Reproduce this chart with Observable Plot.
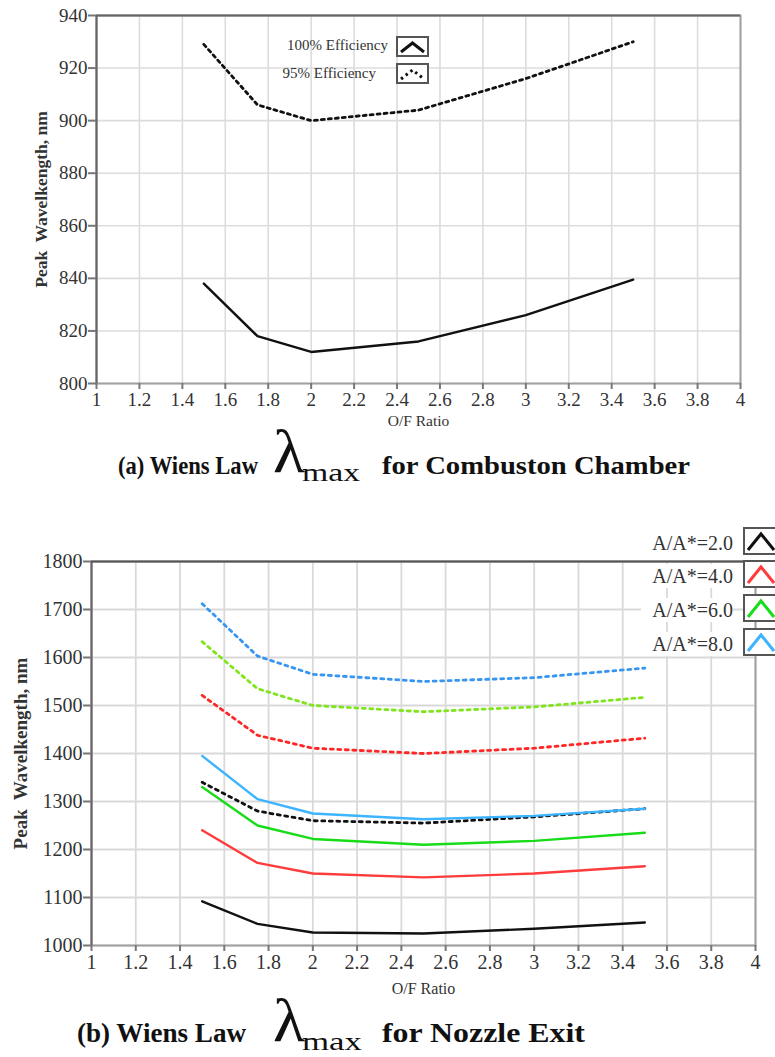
<!DOCTYPE html>
<html>
<head>
<meta charset="utf-8">
<script src="https://cdn.jsdelivr.net/npm/d3@7"></script>
<script src="https://cdn.jsdelivr.net/npm/@observablehq/plot@0.6"></script>
<style>
  body { margin: 0; background: #fff; }
  #root { position: relative; width: 775px; height: 1057px; overflow: hidden;
          font-family: "Liberation Serif", serif; color: #222; }
  #root > svg, .abs { position: absolute; }
  #root svg, #root svg text { font-family: "Liberation Serif", serif !important; }
  .ltxt { white-space: nowrap; color: #333; line-height: 1; text-align: right; }
  .lbox { border: 2px solid #555; background: #fff; box-sizing: border-box; }
</style>
</head>
<body>
<div id="root"></div>
<script>
// ---------------- data ----------------
const ofRatio = [1.5, 1.75, 2.0, 2.5, 3.0, 3.5];
const xTicks = [1, 1.2, 1.4, 1.6, 1.8, 2, 2.2, 2.4, 2.6, 2.8, 3, 3.2, 3.4, 3.6, 3.8, 4];

// (a) combustion chamber
const chamberSeries = ["100% Efficiency", "95% Efficiency"];
const chamber100 = [838, 818, 812, 816, 826, 839.5];
const chamber95 = [929, 906, 900, 904, 916, 930];
const chamberYTicks = [800, 820, 840, 860, 880, 900, 920, 940];

// (b) nozzle exit
const nozzleSeries = ["A/A*=2.0", "A/A*=4.0", "A/A*=6.0", "A/A*=8.0"];
const nozzleColors = ["#111111", "#ff3c3c", "#18dc18", "#3cb4ff"];
const nozzleDashColors = ["#111111", "#ff2626", "#80e41e", "#3896f0"];
const nozzle100 = [
  [1092, 1045, 1027, 1025, 1035, 1048],
  [1240, 1172, 1150, 1142, 1150, 1165],
  [1330, 1250, 1222, 1210, 1218, 1235],
  [1395, 1305, 1275, 1263, 1270, 1285]
];
const nozzle95 = [
  [1340, 1280, 1260, 1255, 1268, 1285],
  [1521, 1438, 1411, 1400, 1411, 1432],
  [1633, 1535, 1500, 1487, 1497, 1517],
  [1712, 1603, 1565, 1550, 1558, 1578]
];
const nozzleYTicks = [1000, 1100, 1200, 1300, 1400, 1500, 1600, 1700, 1800];

const yTitle = "Peak\u00a0 Wavelkength, nm";
const xTitle = "O/F Ratio";
const captionA = ["(a) Wiens Law", "λ", "max", "for Combuston Chamber"];
const captionB = ["(b) Wiens Law", "λ", "max", "for Nozzle Exit"];

// ---------------- helpers ----------------
const root = document.getElementById("root");
const fmtX = d => String(+d.toFixed(1));
const fmtY = d => String(d);
const rowsOf = vals => ofRatio.map((x, i) => ({x, y: vals[i]}));
const FONT = "Liberation Serif";

function place(el, left, top) {
  el.style.left = left + "px"; el.style.top = top + "px";
  root.appendChild(el);
  return el;
}
function div(cls, html, css) {
  const d = document.createElement("div");
  d.className = "abs " + cls;
  d.innerHTML = html;
  Object.assign(d.style, css || {});
  return d;
}
function caretIcon(color, dashed, w, h) {
  return `<svg width="${w}" height="${h}" style="display:block"><polyline points="3,${h - 5} ${w / 2 - 1},5 ${w - 5},${h - 5}" fill="none" stroke="${color}" stroke-width="3" ${dashed ? 'stroke-dasharray="2.5,3.5"' : ''} stroke-linejoin="miter"/></svg>`;
}

// ---------------- (a) chart ----------------
const topPlot = Plot.plot({
  width: 775, height: 440,
  marginLeft: 96, marginRight: 35, marginTop: 15, marginBottom: 57,
  x: {domain: [1, 4]},
  y: {domain: [800, 940]},
  style: {fontFamily: FONT, fontSize: "19px", color: "#333", background: "transparent", overflow: "visible"},
  marks: [
    Plot.gridX(xTicks, {stroke: "#dcdcdc", strokeOpacity: 1, strokeWidth: 1.6}),
    Plot.gridY(chamberYTicks, {stroke: "#dcdcdc", strokeOpacity: 1, strokeWidth: 1.6}),
    Plot.frame({stroke: "#a0a0a0", strokeWidth: 2}),
    Plot.ruleX([1], {stroke: "#666", strokeWidth: 2}),
    Plot.ruleY([940], {stroke: "#666", strokeWidth: 2}),
    Plot.axisX(xTicks, {tickSize: 6, tickPadding: 3, tickFormat: fmtX, stroke: "#777", strokeWidth: 2, label: null, fill: "#333", fontSize: 19, fontFamily: FONT}),
    Plot.axisY(chamberYTicks, {tickSize: 8, tickPadding: 1, tickFormat: fmtY, stroke: "#777", strokeWidth: 2, label: null, fill: "#333", fontSize: 19, fontFamily: FONT}),
    Plot.line(rowsOf(chamber100), {x: "x", y: "y", stroke: "#111", strokeWidth: 2.4}),
    Plot.line(rowsOf(chamber95), {x: "x", y: "y", stroke: "#111", strokeWidth: 2.8, strokeDasharray: "3,4"}),
    Plot.text([yTitle], {frameAnchor: "left", textAnchor: "middle", dx: -55, rotate: -90, fontWeight: "bold", fontSize: 17.5, fill: "#333", fontFamily: FONT}),
    Plot.text([xTitle], {frameAnchor: "bottom", textAnchor: "middle", dy: 42, fontSize: 15.5, fill: "#333", fontFamily: FONT})
  ]
});
root.appendChild(topPlot);
topPlot.style.left = "0px"; topPlot.style.top = "0px";

// (a) legend
place(div("ltxt", chamberSeries[0], {fontSize: "15px", width: "130px"}), 258, 38);
place(div("lbox", caretIcon("#111", false, 31, 19), {width: "33px", height: "21px", overflow: "hidden"}), 396, 36);
place(div("ltxt", chamberSeries[1], {fontSize: "15px", width: "120px"}), 256, 66);
place(div("lbox", caretIcon("#111", true, 31, 19), {width: "33px", height: "21px", overflow: "hidden"}), 396, 63);

// ---------------- (b) chart ----------------
const nozzleMarks = [];
nozzleSeries.forEach((s, i) => {
  nozzleMarks.push(Plot.line(rowsOf(nozzle95[i]), {x: "x", y: "y", stroke: nozzleDashColors[i], strokeWidth: 2.8, strokeDasharray: "3,4.5"}));
});
nozzleSeries.forEach((s, i) => {
  nozzleMarks.push(Plot.line(rowsOf(nozzle100[i]), {x: "x", y: "y", stroke: nozzleColors[i], strokeWidth: 2.4}));
});

const botPlot = Plot.plot({
  width: 775, height: 500,
  marginLeft: 91, marginRight: 20, marginTop: 61, marginBottom: 55,
  x: {domain: [1, 4]},
  y: {domain: [1000, 1800]},
  style: {fontFamily: FONT, fontSize: "20px", color: "#333", background: "transparent", overflow: "visible"},
  marks: [
    Plot.gridX(xTicks, {stroke: "#d9d9d9", strokeOpacity: 1, strokeWidth: 1.8}),
    Plot.gridY(nozzleYTicks, {stroke: "#d9d9d9", strokeOpacity: 1, strokeWidth: 1.8}),
    Plot.frame({stroke: "#a0a0a0", strokeWidth: 2}),
    Plot.ruleX([1], {stroke: "#666", strokeWidth: 2}),
    Plot.ruleY([1800], {stroke: "#555", strokeWidth: 2}),
    Plot.axisX(xTicks, {tickSize: 6, tickPadding: 3, tickFormat: fmtX, stroke: "#777", strokeWidth: 2, label: null, fill: "#333", fontSize: 20, fontFamily: FONT}),
    Plot.axisY(nozzleYTicks, {tickSize: 8, tickPadding: 1, tickFormat: fmtY, stroke: "#777", strokeWidth: 2, label: null, fill: "#333", fontSize: 20, fontFamily: FONT}),
    ...nozzleMarks,
    Plot.text([yTitle], {frameAnchor: "left", textAnchor: "middle", dx: -71, rotate: -90, fontWeight: "bold", fontSize: 19, fill: "#333", fontFamily: FONT}),
    Plot.text([xTitle], {frameAnchor: "bottom", textAnchor: "middle", dy: 48, fontSize: 16, fill: "#333", fontFamily: FONT})
  ]
});
root.appendChild(botPlot);
botPlot.style.left = "0px"; botPlot.style.top = "500px";

// (b) legend
const legendY = [527, 560, 594, 628];
nozzleSeries.forEach((s, i) => {
  place(div("ltxt", s, {fontSize: "20px", width: "92px", padding: "2px 0", background: "#fff"}), 641, legendY[i] + 4);
  place(div("lbox", caretIcon(nozzleColors[i], false, 34, 26), {width: "36px", height: "28px", overflow: "hidden"}), 743, legendY[i]);
});

// ---------------- captions (real text in an overlay svg) ----------------
const ns = "http://www.w3.org/2000/svg";
const capSvg = document.createElementNS(ns, "svg");
capSvg.setAttribute("width", 775); capSvg.setAttribute("height", 1057);
capSvg.style.left = "0px"; capSvg.style.top = "0px"; capSvg.style.pointerEvents = "none";
root.appendChild(capSvg);
function capText(str, x, y, size, bold, len) {
  const t = document.createElementNS(ns, "text");
  t.setAttribute("x", x); t.setAttribute("y", y);
  t.setAttribute("font-size", size);
  t.setAttribute("fill", "#111");
  if (bold) t.setAttribute("font-weight", "bold");
  if (len) { t.setAttribute("textLength", len); t.setAttribute("lengthAdjust", "spacingAndGlyphs"); }
  t.textContent = str;
  capSvg.appendChild(t);
}
capText(captionA[0], 118, 474, 26, true, 140);
capText(captionA[1], 273, 472, 62, false, 32);
capText(captionA[2], 302, 481, 25, false, 58);
capText(captionA[3], 382, 474, 26, true, 308);

capText(captionB[0], 77, 1042, 27, true, 169);
capText(captionB[1], 273, 1041, 62, false, 32);
capText(captionB[2], 302, 1050, 26, false, 60);
capText(captionB[3], 382, 1042, 27, true, 203);
</script>
</body>
</html>
